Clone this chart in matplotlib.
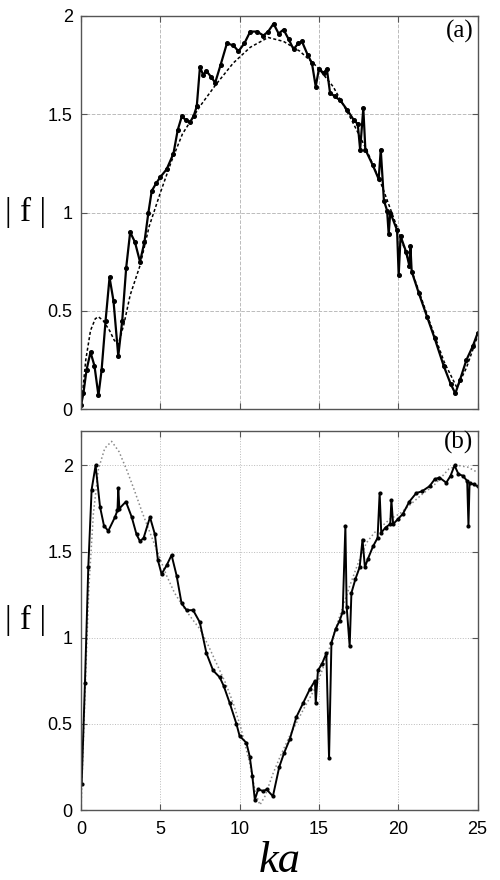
import matplotlib
matplotlib.use("Agg")
import matplotlib.pyplot as plt

# panel (a): computed |f| (solid with dots) and smooth reference (dashed)
ka_a = [0.0, 0.15, 0.35, 0.6, 0.85, 1.1, 1.3, 1.55, 1.8, 2.05, 2.35, 2.6, 2.85, 3.1, 3.4,
        3.72, 4.0, 4.25, 4.46, 4.75, 5.0, 5.4, 5.83, 6.1, 6.36, 6.6, 6.88, 7.1, 7.3, 7.5,
        7.7, 7.9, 8.2, 8.46, 8.8, 9.2, 9.6, 9.93, 10.3, 10.67, 11.1, 11.5, 11.8, 12.14,
        12.46, 12.77, 13.1, 13.4, 13.7, 13.93, 14.3, 14.56, 14.8, 15.0, 15.3, 15.5, 15.7,
        16.0, 16.35, 16.8, 17.2, 17.45, 17.6, 17.8, 17.93, 18.4, 18.77, 18.9, 19.1, 19.3,
        19.4, 19.5, 19.93, 20.03, 20.15, 20.5, 20.7, 20.77, 20.85, 21.3, 21.82, 22.3, 22.87,
        23.3, 23.6, 23.9, 24.3, 24.7, 25.0]
f_a = [0.02, 0.08, 0.20, 0.29, 0.22, 0.07, 0.20, 0.45, 0.67, 0.55, 0.27, 0.45, 0.72, 0.90, 0.85,
       0.75, 0.85, 1.00, 1.11, 1.15, 1.18, 1.22, 1.30, 1.42, 1.49, 1.47, 1.46, 1.49, 1.54, 1.74,
       1.70, 1.72, 1.69, 1.66, 1.75, 1.86, 1.85, 1.82, 1.86, 1.92, 1.92, 1.90, 1.92, 1.96,
       1.91, 1.93, 1.88, 1.83, 1.86, 1.87, 1.80, 1.76, 1.64, 1.73, 1.71, 1.73, 1.61,
       1.59, 1.57, 1.52, 1.47, 1.45, 1.32, 1.53, 1.32, 1.24, 1.17, 1.32, 1.06, 1.01,
       0.89, 1.00, 0.91, 0.68, 0.88, 0.80, 0.73, 0.83, 0.70, 0.59, 0.47, 0.36, 0.22,
       0.13, 0.08, 0.15, 0.25, 0.32, 0.385]

ka_a_ref = [0.0, 0.3, 0.6, 0.9, 1.1, 1.4, 1.8, 2.1, 2.35, 2.7, 3.1, 3.72, 4.3, 5.0, 5.7, 6.4,
            7.5, 8.5, 9.6, 10.67, 11.8, 12.77, 13.8, 14.9, 15.9, 17.0, 18.0, 19.0, 20.0,
            21.0, 22.0, 22.9, 23.7, 24.3, 25.0]
f_a_ref = [0.0, 0.25, 0.40, 0.46, 0.47, 0.45, 0.40, 0.35, 0.33, 0.43, 0.58, 0.73, 0.93, 1.10,
           1.26, 1.40, 1.54, 1.65, 1.76, 1.84, 1.89, 1.87, 1.82, 1.74, 1.64, 1.48, 1.32, 1.13,
           0.91, 0.67, 0.44, 0.24, 0.11, 0.21, 0.37]

# panel (b)
ka_b = [0.04, 0.25, 0.46, 0.67, 0.92, 1.2, 1.45, 1.72, 2.14, 2.3, 2.35, 2.42, 2.83, 3.2, 3.5,
        3.72, 3.95, 4.35, 4.66, 4.85, 5.08, 5.4, 5.71, 6.03, 6.34, 6.66, 7.07, 7.49, 7.91,
        8.33, 8.75, 9.0, 9.38, 9.8, 10.0, 10.43, 10.64, 10.8, 10.96, 11.17, 11.5, 11.7, 12.1,
        12.5, 12.8, 13.16, 13.58, 14.0, 14.42, 14.75, 14.8, 14.94, 15.2, 15.47, 15.64, 15.79,
        16.05, 16.31, 16.5, 16.67, 16.75, 16.94, 17.05, 17.3, 17.57, 17.75, 17.9, 18.1,
        18.41, 18.7, 18.83, 18.93, 19.2, 19.5, 19.57, 19.68, 20.0, 20.3, 20.7, 21.14, 21.5,
        21.98, 22.3, 22.6, 23.03, 23.3, 23.55, 23.8, 24.08, 24.35, 24.43, 24.5, 24.75, 25.0]
f_b = [0.15, 0.74, 1.41, 1.86, 2.00, 1.76, 1.65, 1.62, 1.70, 1.74, 1.87, 1.75, 1.79, 1.70, 1.60,
       1.56, 1.58, 1.70, 1.60, 1.45, 1.37, 1.42, 1.48, 1.36, 1.20, 1.16, 1.16, 1.09, 0.91,
       0.81, 0.77, 0.72, 0.62, 0.50, 0.43, 0.39, 0.31, 0.20, 0.06, 0.12, 0.11, 0.12, 0.08,
       0.25, 0.33, 0.41, 0.54, 0.62, 0.70, 0.75, 0.62, 0.81, 0.85, 0.91, 0.30, 0.97,
       1.05, 1.10, 1.15, 1.65, 1.18, 0.95, 1.26, 1.34, 1.41, 1.57, 1.41, 1.46,
       1.53, 1.58, 1.84, 1.61, 1.64, 1.66, 1.80, 1.66, 1.69, 1.72, 1.79, 1.84, 1.85,
       1.88, 1.92, 1.93, 1.90, 1.94, 2.00, 1.95, 1.94, 1.91, 1.65, 1.90, 1.89, 1.88]

ka_b_ref = [0.0, 0.3, 0.5, 0.78, 1.1, 1.5, 1.93, 2.4, 2.9, 3.35, 3.85, 4.35, 4.9, 5.4, 5.9,
            6.45, 7.0, 7.5, 8.0, 8.55, 9.1, 9.6, 10.1, 10.64, 11.0, 11.28, 11.6, 12.1, 12.6,
            13.16, 14.0, 14.84, 15.4, 15.9, 16.4, 16.94, 17.5, 17.99, 18.5, 19.0, 19.5, 20.1,
            20.6, 21.1, 21.6, 22.2, 22.7, 23.2, 23.8, 24.4, 25.0]
f_b_ref = [0.0, 0.80, 1.30, 1.72, 1.98, 2.10, 2.14, 2.08, 1.97, 1.86, 1.73, 1.61, 1.48, 1.36,
           1.26, 1.18, 1.11, 1.05, 0.96, 0.85, 0.74, 0.62, 0.47, 0.27, 0.10, 0.03, 0.08, 0.21,
           0.32, 0.43, 0.58, 0.72, 0.86, 1.01, 1.15, 1.30, 1.44, 1.55, 1.61, 1.65, 1.69, 1.72,
           1.76, 1.80, 1.84, 1.88, 1.93, 1.98, 2.00, 1.99, 1.96]

xticks = [0, 5, 10, 15, 20, 25]
yticks = [0, 0.5, 1, 1.5, 2]
ytick_labels = ["0", "0.5", "1", "1.5", "2"]

tick_font = "Liberation Sans"
label_font = "Liberation Serif"


def style_axes(ax, ylim, grid_style):
    ax.set_xlim(0, 25)
    ax.set_ylim(*ylim)
    ax.set_xticks(xticks)
    ax.set_yticks(yticks)
    ax.set_yticklabels(ytick_labels)
    ax.grid(True, color="#bbbbbb", linestyle=grid_style, linewidth=0.7)
    ax.tick_params(direction="in", top=True, right=True, length=4, width=0.8,
                   color="#555555", labelsize=13)
    ax.tick_params(axis="x", pad=8)
    ax.tick_params(axis="y", pad=6)
    for s in ax.spines.values():
        s.set_color("#555555")
        s.set_linewidth(1.0)
    for lbl in ax.get_xticklabels() + ax.get_yticklabels():
        lbl.set_fontfamily(tick_font)
    ax.set_ylabel("| f |", family=label_font, fontsize=24, rotation=0,
                  labelpad=16, va="center")


fig = plt.figure(figsize=(5, 8.8), dpi=100)

ax1 = fig.add_axes([0.162, 0.535, 0.793, 0.447])
ax1.plot(ka_a_ref, f_a_ref, color="black", linestyle=(0, (2, 1.5)), linewidth=1.1)
ax1.plot(ka_a, f_a, color="black", linewidth=1.6, marker="o", markersize=2.6)
style_axes(ax1, (0, 2), "--")
ax1.set_xticklabels([])
ax1.text(0.99, 0.99, "(a)", transform=ax1.transAxes, ha="right", va="top",
         family=label_font, fontsize=18)

ax2 = fig.add_axes([0.162, 0.0795, 0.793, 0.4307])
ax2.plot(ka_b_ref, f_b_ref, color="#888888", linestyle=":", linewidth=1.1)
ax2.plot(ka_b, f_b, color="black", linewidth=1.4, marker="o", markersize=2.0)
style_axes(ax2, (0, 2.2), ":")
ax2.text(0.99, 1.0, "(b)", transform=ax2.transAxes, ha="right", va="top",
         family=label_font, fontsize=18)
ax2.set_xlabel("ka", family=label_font, style="italic", fontsize=32, labelpad=2)

fig.savefig("out.png", dpi=100)
